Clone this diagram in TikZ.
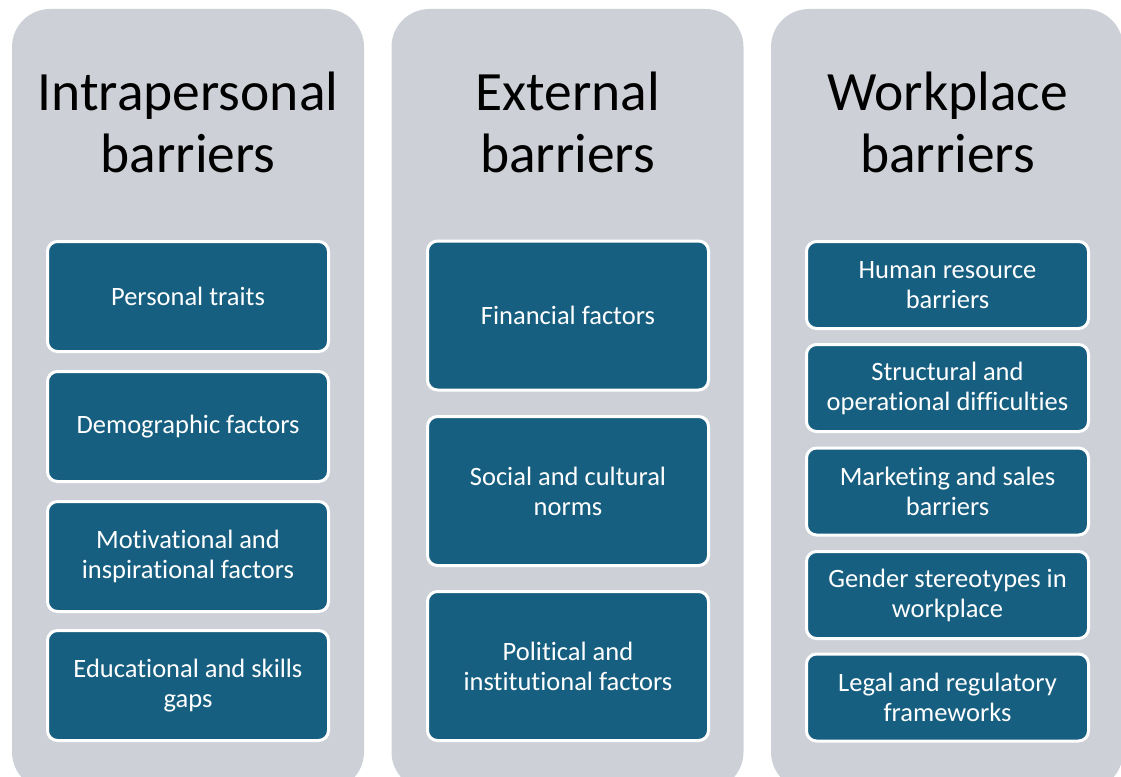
\documentclass[tikz,border=0pt]{standalone}
\usepackage{fontspec}
\setmainfont{Carlito}[Ligatures=NoCommon]
\definecolor{panelgray}{RGB}{205,209,215}
\definecolor{boxblue}{RGB}{23,95,128}
\begin{document}
\begin{tikzpicture}[x=1pt,y=-1pt,
  panel/.style={fill=panelgray,draw=none,rounded corners=38pt,minimum width=352pt,minimum height=781pt,inner sep=0pt},
  title/.style={align=center,font=\fontsize{55.5}{62}\selectfont,text=black,inner sep=0pt,anchor=base},
  item/.style={fill=boxblue,draw=white,line width=3pt,rounded corners=10pt,inner sep=0pt,align=center,text=white,font=\fontsize{26.5}{30}\selectfont,minimum width=281pt},
  itemA/.style={item,minimum height=110pt},
  itemB/.style={item,minimum height=149pt},
  itemC/.style={item,minimum height=87pt,minimum width=282pt}]
\useasboundingbox (0,0) rectangle (1121,776);
\clip (0,0) rectangle (1121,776);
% panels
\node[panel] (p1) at (188,399.5) {};
\node[panel] (p2) at (567.5,399.5) {};
\node[panel] (p3) at (947,399.5) {};
% titles
\node[title] (t1) at (188,172) {Intrapersonal\\barriers};
\node[title] (t2) at (567.5,172) {External\\barriers};
\node[title] (t3) at (947.5,172) {Workplace\\barriers};
% column 1
\node[itemA] (a1) at (188,296.5) {Personal traits};
\node[itemA] (a2) at (188,426.5) {Demographic factors};
\node[itemA] (a3) at (188,556.5) {Motivational and\\inspirational factors};
\node[itemA] (a4) at (188,685.5) {Educational and skills\\gaps};
% column 2
\node[itemB] (b1) at (568,315.5) {Financial factors};
\node[itemB] (b2) at (568,491) {Social and cultural\\norms};
\node[itemB] (b3) at (568,666) {Political and\\institutional factors};
% column 3
\node[itemC] (c1) at (947.5,285) {Human resource\\barriers};
\node[itemC] (c2) at (947.5,388) {Structural and\\operational difficulties};
\node[itemC] (c3) at (947.5,491.5) {Marketing and sales\\barriers};
\node[itemC] (c4) at (947.5,595) {Gender stereotypes in\\workplace};
\node[itemC] (c5) at (947.5,697.5) {Legal and regulatory\\frameworks};
\end{tikzpicture}
\end{document}
